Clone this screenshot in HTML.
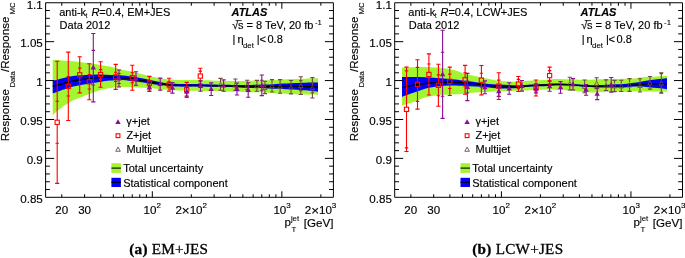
<!DOCTYPE html>
<html><head><meta charset="utf-8"><style>
html,body{margin:0;padding:0;background:#fff;width:685px;height:258px;overflow:hidden}
svg{display:block;will-change:transform}
.m{font-family:"Liberation Sans",sans-serif;font-size:11.0px;fill:#000;stroke:#000;stroke-width:0.15px}
.a{font-family:"Liberation Sans",sans-serif;font-size:11.6px;fill:#000;stroke:#000;stroke-width:0.15px}
.s{font-family:"Liberation Sans",sans-serif;font-size:7.8px;fill:#000;stroke:#000;stroke-width:0.1px}
.s2{font-family:"Liberation Sans",sans-serif;font-size:7.2px;fill:#000}
.c{font-family:"Liberation Serif",serif;font-size:15.2px;letter-spacing:0.25px;fill:#000;stroke:#000;stroke-width:0.3px}
</style></head><body>
<svg width="685" height="258" viewBox="0 0 685 258">
<rect width="685" height="258" fill="#fff"/>
<g transform="translate(0,0)"><path d="M52.7,60 C53.48,60.02 55.92,60.03 57.4,60.1 C58.88,60.17 60.17,60.3 61.6,60.4 C63.03,60.5 64.05,60.55 66,60.7 C67.95,60.85 70.8,61.03 73.3,61.3 C75.8,61.57 78.68,62 81,62.3 C83.32,62.6 84.1,62.67 87.2,63.1 C90.3,63.53 95.8,64.32 99.6,64.9 C103.4,65.48 106.6,65.85 110,66.6 C113.4,67.35 116.38,68.57 120,69.4 C123.62,70.23 127.8,70.75 131.7,71.6 C135.6,72.45 139.52,73.57 143.4,74.5 C147.28,75.43 151.12,76.42 155,77.2 C158.88,77.98 162.8,78.73 166.7,79.2 C170.6,79.67 173.52,79.87 178.4,80 C183.28,80.13 190.48,79.93 196,80 C201.52,80.07 206.33,80.23 211.5,80.4 C216.67,80.57 222.92,80.9 227,81 C231.08,81.1 231.92,81.05 236,81 C240.08,80.95 246.33,80.82 251.5,80.7 C256.67,80.58 262.92,80.42 267,80.3 C271.08,80.18 272.17,80.2 276,80 C279.83,79.8 285.33,79.32 290,79.1 C294.67,78.88 299.33,78.85 304,78.7 C308.67,78.55 315.67,78.28 318,78.2 L318,94.9 C315.67,94.83 308.67,94.65 304,94.5 C299.33,94.35 294.67,94.22 290,94 C285.33,93.78 279.83,93.42 276,93.2 C272.17,92.98 271.08,92.85 267,92.7 C262.92,92.55 256.67,92.47 251.5,92.3 C246.33,92.13 240.08,91.85 236,91.7 C231.92,91.55 231.08,91.5 227,91.4 C222.92,91.3 216.67,91.22 211.5,91.1 C206.33,90.98 201.52,90.82 196,90.7 C190.48,90.58 183.28,90.57 178.4,90.4 C173.52,90.23 170.6,90.03 166.7,89.7 C162.8,89.37 158.88,88.72 155,88.4 C151.12,88.08 147.28,88 143.4,87.8 C139.52,87.6 135.6,87.33 131.7,87.2 C127.8,87.07 123.62,86.87 120,87 C116.38,87.13 113.4,87.45 110,88 C106.6,88.55 103.4,89.18 99.6,90.3 C95.8,91.42 90.3,93.55 87.2,94.7 C84.1,95.85 83.32,96.28 81,97.2 C78.68,98.12 75.8,98.97 73.3,100.2 C70.8,101.43 67.95,103.35 66,104.6 C64.05,105.85 63.03,106.63 61.6,107.7 C60.17,108.77 58.88,109.73 57.4,111 C55.92,112.27 53.48,114.58 52.7,115.3 Z" fill="#a2f52f"/><path d="M52.7,80.6 C53.48,80.47 55.92,80.13 57.4,79.8 C58.88,79.47 60.17,78.98 61.6,78.6 C63.03,78.22 64.05,77.92 66,77.5 C67.95,77.08 70.8,76.47 73.3,76.1 C75.8,75.73 78.68,75.5 81,75.3 C83.32,75.1 84.1,75.05 87.2,74.9 C90.3,74.75 95.8,74.4 99.6,74.4 C103.4,74.4 106.6,74.75 110,74.9 C113.4,75.05 116.38,75.03 120,75.3 C123.62,75.57 127.8,75.97 131.7,76.5 C135.6,77.03 139.52,77.75 143.4,78.5 C147.28,79.25 151.12,80.2 155,81 C158.88,81.8 162.8,82.8 166.7,83.3 C170.6,83.8 173.52,83.87 178.4,84 C183.28,84.13 190.48,84.03 196,84.1 C201.52,84.17 206.33,84.28 211.5,84.4 C216.67,84.52 222.92,84.7 227,84.8 C231.08,84.9 231.92,84.98 236,85 C240.08,85.02 246.33,84.98 251.5,84.9 C256.67,84.82 262.92,84.65 267,84.5 C271.08,84.35 272.17,84.2 276,84 C279.83,83.8 285.33,83.5 290,83.3 C294.67,83.1 299.33,82.92 304,82.8 C308.67,82.68 315.67,82.63 318,82.6 L318,91.7 C315.67,91.47 308.67,90.7 304,90.3 C299.33,89.9 294.67,89.57 290,89.3 C285.33,89.03 279.83,88.85 276,88.7 C272.17,88.55 271.08,88.52 267,88.4 C262.92,88.28 256.67,88.17 251.5,88 C246.33,87.83 240.08,87.55 236,87.4 C231.92,87.25 231.08,87.2 227,87.1 C222.92,87 216.67,86.9 211.5,86.8 C206.33,86.7 201.52,86.53 196,86.5 C190.48,86.47 183.28,86.73 178.4,86.6 C173.52,86.47 170.6,86.03 166.7,85.7 C162.8,85.37 158.88,85.12 155,84.6 C151.12,84.08 147.28,83.22 143.4,82.6 C139.52,81.98 135.6,81.35 131.7,80.9 C127.8,80.45 123.62,79.95 120,79.9 C116.38,79.85 113.4,80.25 110,80.6 C106.6,80.95 103.4,81.43 99.6,82 C95.8,82.57 90.3,83.48 87.2,84 C84.1,84.52 83.32,84.67 81,85.1 C78.68,85.53 75.8,85.98 73.3,86.6 C70.8,87.22 67.95,88.2 66,88.8 C64.05,89.4 63.03,89.7 61.6,90.2 C60.17,90.7 58.88,91.27 57.4,91.8 C55.92,92.33 53.48,93.13 52.7,93.4 Z" fill="#0000ff"/><path d="M52.7,86.2 C53.48,86.03 55.92,85.55 57.4,85.2 C58.88,84.85 60.17,84.5 61.6,84.1 C63.03,83.7 64.05,83.33 66,82.8 C67.95,82.27 70.8,81.43 73.3,80.9 C75.8,80.37 78.68,79.95 81,79.6 C83.32,79.25 84.1,79.17 87.2,78.8 C90.3,78.43 95.8,77.67 99.6,77.4 C103.4,77.13 106.6,77.17 110,77.2 C113.4,77.23 116.38,77.32 120,77.6 C123.62,77.88 127.8,78.38 131.7,78.9 C135.6,79.42 139.52,80.02 143.4,80.7 C147.28,81.38 151.12,82.35 155,83 C158.88,83.65 162.8,84.2 166.7,84.6 C170.6,85 173.52,85.25 178.4,85.4 C183.28,85.55 190.48,85.45 196,85.5 C201.52,85.55 206.33,85.62 211.5,85.7 C216.67,85.78 222.92,85.9 227,86 C231.08,86.1 231.92,86.22 236,86.3 C240.08,86.38 246.33,86.43 251.5,86.5 C256.67,86.57 262.92,86.72 267,86.7 C271.08,86.68 272.17,86.5 276,86.4 C279.83,86.3 285.33,86.07 290,86.1 C294.67,86.13 299.33,86.45 304,86.6 C308.67,86.75 315.67,86.93 318,87" fill="none" stroke="#000" stroke-width="1.4"/><path d="M57.2,61.2 V120 M57.2,124.6 V183.4" stroke="#ff0000" stroke-width="1.1" fill="none"/><path d="M55.1,61.2 h4.2 M55.1,183.4 h4.2 M55.5,101.3 h3.4 M55.5,143.3 h3.4 " stroke="#ff0000" stroke-width="1.1" fill="none"/><rect x="55.1" y="120.2" width="4.2" height="4.2" fill="none" stroke="#ff0000" stroke-width="1.1"/><path d="M68.3,52.1 V84 M68.3,88.6 V120.5" stroke="#ff0000" stroke-width="1.1" fill="none"/><path d="M66.2,52.1 h4.2 M66.2,120.5 h4.2 M66.6,76.6 h3.4 M66.6,96 h3.4 " stroke="#ff0000" stroke-width="1.1" fill="none"/><rect x="66.2" y="84.2" width="4.2" height="4.2" fill="none" stroke="#ff0000" stroke-width="1.1"/><path d="M79.7,56.7 V72.5 M79.7,77.1 V92.9" stroke="#ff0000" stroke-width="1.1" fill="none"/><path d="M77.6,56.7 h4.2 M77.6,92.9 h4.2 M78,68.1 h3.4 M78,81.5 h3.4 " stroke="#ff0000" stroke-width="1.1" fill="none"/><rect x="77.6" y="72.7" width="4.2" height="4.2" fill="none" stroke="#ff0000" stroke-width="1.1"/><path d="M89.3,63.8 V79.5 M89.3,84.1 V99.8" stroke="#ff0000" stroke-width="1.1" fill="none"/><path d="M87.2,63.8 h4.2 M87.2,99.8 h4.2 M87.6,74.6 h3.4 M87.6,89 h3.4 " stroke="#ff0000" stroke-width="1.1" fill="none"/><rect x="87.2" y="79.7" width="4.2" height="4.2" fill="none" stroke="#ff0000" stroke-width="1.1"/><path d="M100.6,61.8 V72.2 M100.6,76.8 V87.2" stroke="#ff0000" stroke-width="1.1" fill="none"/><path d="M98.5,61.8 h4.2 M98.5,87.2 h4.2 M98.9,69.6 h3.4 M98.9,79.4 h3.4 " stroke="#ff0000" stroke-width="1.1" fill="none"/><rect x="98.5" y="72.4" width="4.2" height="4.2" fill="none" stroke="#ff0000" stroke-width="1.1"/><path d="M115.7,64.4 V74.6 M115.7,79.2 V89.4" stroke="#ff0000" stroke-width="1.1" fill="none"/><path d="M113.6,64.4 h4.2 M113.6,89.4 h4.2 M114,72.3 h3.4 M114,81.5 h3.4 " stroke="#ff0000" stroke-width="1.1" fill="none"/><rect x="113.6" y="74.8" width="4.2" height="4.2" fill="none" stroke="#ff0000" stroke-width="1.1"/><path d="M132.3,65.2 V75.4 M132.3,80 V90.2" stroke="#ff0000" stroke-width="1.1" fill="none"/><path d="M130.2,65.2 h4.2 M130.2,90.2 h4.2 M130.6,72.7 h3.4 M130.6,82.7 h3.4 " stroke="#ff0000" stroke-width="1.1" fill="none"/><rect x="130.2" y="75.6" width="4.2" height="4.2" fill="none" stroke="#ff0000" stroke-width="1.1"/><path d="M149.4,76.4 V80.9 M149.4,85.5 V90" stroke="#ff0000" stroke-width="1.1" fill="none"/><path d="M147.3,76.4 h4.2 M147.3,90 h4.2 M147.7,80.2 h3.4 M147.7,86.2 h3.4 " stroke="#ff0000" stroke-width="1.1" fill="none"/><rect x="147.3" y="81.1" width="4.2" height="4.2" fill="none" stroke="#ff0000" stroke-width="1.1"/><path d="M169.1,78.3 V82.4 M169.1,87 V91.1" stroke="#ff0000" stroke-width="1.1" fill="none"/><path d="M167,78.3 h4.2 M167,91.1 h4.2 M167.4,81.7 h3.4 M167.4,87.7 h3.4 " stroke="#ff0000" stroke-width="1.1" fill="none"/><rect x="167" y="82.6" width="4.2" height="4.2" fill="none" stroke="#ff0000" stroke-width="1.1"/><path d="M186.7,82.4 V87.6 M186.7,92.2 V97.4" stroke="#ff0000" stroke-width="1.1" fill="none"/><path d="M184.6,82.4 h4.2 M184.6,97.4 h4.2 M185,86.9 h3.4 M185,92.9 h3.4 " stroke="#ff0000" stroke-width="1.1" fill="none"/><rect x="184.6" y="87.8" width="4.2" height="4.2" fill="none" stroke="#ff0000" stroke-width="1.1"/><path d="M200.3,68.3 V73.8 M200.3,78.4 V83.9" stroke="#ff0000" stroke-width="1.1" fill="none"/><path d="M198.2,68.3 h4.2 M198.2,83.9 h4.2 M198.6,71.1 h3.4 M198.6,81.1 h3.4 " stroke="#ff0000" stroke-width="1.1" fill="none"/><rect x="198.2" y="74" width="4.2" height="4.2" fill="none" stroke="#ff0000" stroke-width="1.1"/><path d="M220.5,78.4 V81.9 M220.5,86.7 V90.2" stroke="#6e4c3e" stroke-width="1.1" fill="none"/><path d="M218.4,78.4 h4.2 M218.4,90.2 h4.2 " stroke="#6e4c3e" stroke-width="1.1" fill="none"/><path d="M220.5,82.3 L222.7,86.3 L218.3,86.3 Z" fill="none" stroke="#6e4c3e" stroke-width="0.85" stroke-linejoin="miter"/><path d="M235.4,79 V82.2 M235.4,87 V90.2" stroke="#6e4c3e" stroke-width="1.1" fill="none"/><path d="M233.3,79 h4.2 M233.3,90.2 h4.2 " stroke="#6e4c3e" stroke-width="1.1" fill="none"/><path d="M235.4,82.6 L237.6,86.6 L233.2,86.6 Z" fill="none" stroke="#6e4c3e" stroke-width="0.85" stroke-linejoin="miter"/><path d="M247.2,80.2 V82.6 M247.2,87.4 V89.8" stroke="#6e4c3e" stroke-width="1.1" fill="none"/><path d="M245.1,80.2 h4.2 M245.1,89.8 h4.2 " stroke="#6e4c3e" stroke-width="1.1" fill="none"/><path d="M247.2,83 L249.4,87 L245,87 Z" fill="none" stroke="#6e4c3e" stroke-width="0.85" stroke-linejoin="miter"/><path d="M256.9,80.4 V83.4 M256.9,88.2 V91.2" stroke="#6e4c3e" stroke-width="1.1" fill="none"/><path d="M254.8,80.4 h4.2 M254.8,91.2 h4.2 " stroke="#6e4c3e" stroke-width="1.1" fill="none"/><path d="M256.9,83.8 L259.1,87.8 L254.7,87.8 Z" fill="none" stroke="#6e4c3e" stroke-width="0.85" stroke-linejoin="miter"/><path d="M264.9,81.2 V85 M264.9,89.8 V93.6" stroke="#6e4c3e" stroke-width="1.1" fill="none"/><path d="M262.8,81.2 h4.2 M262.8,93.6 h4.2 " stroke="#6e4c3e" stroke-width="1.1" fill="none"/><path d="M264.9,85.4 L267.1,89.4 L262.7,89.4 Z" fill="none" stroke="#6e4c3e" stroke-width="0.85" stroke-linejoin="miter"/><path d="M272,79.6 V83.4 M272,88.2 V92" stroke="#6e4c3e" stroke-width="1.1" fill="none"/><path d="M269.9,79.6 h4.2 M269.9,92 h4.2 " stroke="#6e4c3e" stroke-width="1.1" fill="none"/><path d="M272,83.8 L274.2,87.8 L269.8,87.8 Z" fill="none" stroke="#6e4c3e" stroke-width="0.85" stroke-linejoin="miter"/><path d="M280.1,79.6 V84 M280.1,88.8 V93.2" stroke="#6e4c3e" stroke-width="1.1" fill="none"/><path d="M278,79.6 h4.2 M278,93.2 h4.2 " stroke="#6e4c3e" stroke-width="1.1" fill="none"/><path d="M280.1,84.4 L282.3,88.4 L277.9,88.4 Z" fill="none" stroke="#6e4c3e" stroke-width="0.85" stroke-linejoin="miter"/><path d="M291,80.5 V84.8 M291,89.6 V93.9" stroke="#6e4c3e" stroke-width="1.1" fill="none"/><path d="M288.9,80.5 h4.2 M288.9,93.9 h4.2 " stroke="#6e4c3e" stroke-width="1.1" fill="none"/><path d="M291,85.2 L293.2,89.2 L288.8,89.2 Z" fill="none" stroke="#6e4c3e" stroke-width="0.85" stroke-linejoin="miter"/><path d="M300.8,76.7 V83.2 M300.8,88 V94.5" stroke="#6e4c3e" stroke-width="1.1" fill="none"/><path d="M298.7,76.7 h4.2 M298.7,94.5 h4.2 M299.1,80.6 h3.4 M299.1,90.6 h3.4 " stroke="#6e4c3e" stroke-width="1.1" fill="none"/><path d="M300.8,83.6 L303,87.6 L298.6,87.6 Z" fill="none" stroke="#6e4c3e" stroke-width="0.85" stroke-linejoin="miter"/><path d="M312.4,77.6 V85.4 M312.4,90.2 V98" stroke="#6e4c3e" stroke-width="1.1" fill="none"/><path d="M310.3,77.6 h4.2 M310.3,98 h4.2 M310.7,82.8 h3.4 M310.7,92.8 h3.4 " stroke="#6e4c3e" stroke-width="1.1" fill="none"/><path d="M312.4,85.8 L314.6,89.8 L310.2,89.8 Z" fill="none" stroke="#6e4c3e" stroke-width="0.85" stroke-linejoin="miter"/><path d="M93.3,33.5 V101.9" stroke="#8c0c98" stroke-width="1.1" fill="none"/><path d="M91.2,33.5 h4.2 M91.2,101.9 h4.2 M91.6,50.4 h3.4 M91.6,85 h3.4 " stroke="#8c0c98" stroke-width="1.1" fill="none"/><path d="M93.3,64.82 L96,69.62 L90.6,69.62 Z" fill="#8c0c98"/><path d="M119,70 V87" stroke="#8c0c98" stroke-width="1.1" fill="none"/><path d="M116.9,70 h4.2 M116.9,87 h4.2 M117.3,73.5 h3.4 M117.3,83.5 h3.4 " stroke="#8c0c98" stroke-width="1.1" fill="none"/><path d="M119,75.62 L121.7,80.42 L116.3,80.42 Z" fill="#8c0c98"/><path d="M136,71.7 V85.3" stroke="#8c0c98" stroke-width="1.1" fill="none"/><path d="M133.9,71.7 h4.2 M133.9,85.3 h4.2 " stroke="#8c0c98" stroke-width="1.1" fill="none"/><path d="M136,75.62 L138.7,80.42 L133.3,80.42 Z" fill="#8c0c98"/><path d="M149.4,83.1 V91.5" stroke="#8c0c98" stroke-width="1.1" fill="none"/><path d="M147.3,83.1 h4.2 M147.3,91.5 h4.2 " stroke="#8c0c98" stroke-width="1.1" fill="none"/><path d="M149.4,84.42 L152.1,89.22 L146.7,89.22 Z" fill="#8c0c98"/><path d="M160.2,78.1 V90.1" stroke="#8c0c98" stroke-width="1.1" fill="none"/><path d="M158.1,78.1 h4.2 M158.1,90.1 h4.2 " stroke="#8c0c98" stroke-width="1.1" fill="none"/><path d="M160.2,81.22 L162.9,86.02 L157.5,86.02 Z" fill="#8c0c98"/><path d="M172.4,82.5 V93.1" stroke="#8c0c98" stroke-width="1.1" fill="none"/><path d="M170.3,82.5 h4.2 M170.3,93.1 h4.2 " stroke="#8c0c98" stroke-width="1.1" fill="none"/><path d="M172.4,84.92 L175.1,89.72 L169.7,89.72 Z" fill="#8c0c98"/><path d="M186.7,87.1 V96.1" stroke="#8c0c98" stroke-width="1.1" fill="none"/><path d="M184.6,87.1 h4.2 M184.6,96.1 h4.2 " stroke="#8c0c98" stroke-width="1.1" fill="none"/><path d="M186.7,88.72 L189.4,93.52 L184,93.52 Z" fill="#8c0c98"/><path d="M200.5,80.7 V91.3" stroke="#8c0c98" stroke-width="1.1" fill="none"/><path d="M198.4,80.7 h4.2 M198.4,91.3 h4.2 " stroke="#8c0c98" stroke-width="1.1" fill="none"/><path d="M200.5,83.12 L203.2,87.92 L197.8,87.92 Z" fill="#8c0c98"/><path d="M211.2,82.9 V95.5" stroke="#8c0c98" stroke-width="1.1" fill="none"/><path d="M209.1,82.9 h4.2 M209.1,95.5 h4.2 " stroke="#8c0c98" stroke-width="1.1" fill="none"/><path d="M211.2,86.32 L213.9,91.12 L208.5,91.12 Z" fill="#8c0c98"/><path d="M223.6,79.9 V91.3" stroke="#8c0c98" stroke-width="1.1" fill="none"/><path d="M221.5,79.9 h4.2 M221.5,91.3 h4.2 " stroke="#8c0c98" stroke-width="1.1" fill="none"/><path d="M223.6,82.72 L226.3,87.52 L220.9,87.52 Z" fill="#8c0c98"/><path d="M237,83 V95" stroke="#8c0c98" stroke-width="1.1" fill="none"/><path d="M234.9,83 h4.2 M234.9,95 h4.2 " stroke="#8c0c98" stroke-width="1.1" fill="none"/><path d="M237,86.12 L239.7,90.92 L234.3,90.92 Z" fill="#8c0c98"/><path d="M248.2,82.8 V97.2" stroke="#8c0c98" stroke-width="1.1" fill="none"/><path d="M246.1,82.8 h4.2 M246.1,97.2 h4.2 " stroke="#8c0c98" stroke-width="1.1" fill="none"/><path d="M248.2,87.12 L250.9,91.92 L245.5,91.92 Z" fill="#8c0c98"/><path d="M261.8,75 V95.6" stroke="#8c0c98" stroke-width="1.1" fill="none"/><path d="M259.7,75 h4.2 M259.7,95.6 h4.2 M260.1,80.3 h3.4 M260.1,90.3 h3.4 " stroke="#8c0c98" stroke-width="1.1" fill="none"/><path d="M261.8,82.42 L264.5,87.22 L259.1,87.22 Z" fill="#8c0c98"/><path d="M45.6,2.75 H333.4 V197.3 H45.6 Z M45.6,189.52 h4.3 M333.4,189.52 h-4.3 M45.6,181.74 h4.3 M333.4,181.74 h-4.3 M45.6,173.95 h4.3 M333.4,173.95 h-4.3 M45.6,166.17 h4.3 M333.4,166.17 h-4.3 M45.6,158.39 h8.5 M333.4,158.39 h-8.5 M45.6,150.61 h4.3 M333.4,150.61 h-4.3 M45.6,142.83 h4.3 M333.4,142.83 h-4.3 M45.6,135.04 h4.3 M333.4,135.04 h-4.3 M45.6,127.26 h4.3 M333.4,127.26 h-4.3 M45.6,119.48 h8.5 M333.4,119.48 h-8.5 M45.6,111.7 h4.3 M333.4,111.7 h-4.3 M45.6,103.92 h4.3 M333.4,103.92 h-4.3 M45.6,96.13 h4.3 M333.4,96.13 h-4.3 M45.6,88.35 h4.3 M333.4,88.35 h-4.3 M45.6,80.57 h8.5 M333.4,80.57 h-8.5 M45.6,72.79 h4.3 M333.4,72.79 h-4.3 M45.6,65.01 h4.3 M333.4,65.01 h-4.3 M45.6,57.22 h4.3 M333.4,57.22 h-4.3 M45.6,49.44 h4.3 M333.4,49.44 h-4.3 M45.6,41.66 h8.5 M333.4,41.66 h-8.5 M45.6,33.88 h4.3 M333.4,33.88 h-4.3 M45.6,26.1 h4.3 M333.4,26.1 h-4.3 M45.6,18.31 h4.3 M333.4,18.31 h-4.3 M45.6,10.53 h4.3 M333.4,10.53 h-4.3 M61.78,197.3 v-3 M61.78,2.75 v3 M84.59,197.3 v-3 M84.59,2.75 v3 M100.78,197.3 v-3 M100.78,2.75 v3 M113.33,197.3 v-3 M113.33,2.75 v3 M123.59,197.3 v-3 M123.59,2.75 v3 M132.26,197.3 v-3 M132.26,2.75 v3 M139.77,197.3 v-3 M139.77,2.75 v3 M146.4,197.3 v-3 M146.4,2.75 v3 M152.32,197.3 v-6 M152.32,2.75 v6 M191.32,197.3 v-3 M191.32,2.75 v3 M214.12,197.3 v-3 M214.12,2.75 v3 M230.31,197.3 v-3 M230.31,2.75 v3 M242.86,197.3 v-3 M242.86,2.75 v3 M253.12,197.3 v-3 M253.12,2.75 v3 M261.79,197.3 v-3 M261.79,2.75 v3 M269.3,197.3 v-3 M269.3,2.75 v3 M275.93,197.3 v-3 M275.93,2.75 v3 M281.85,197.3 v-6 M281.85,2.75 v6 M320.85,197.3 v-3 M320.85,2.75 v3" stroke="#000" stroke-width="1.0" fill="none"/></g>
<g transform="translate(349.1,0)"><path d="M52.9,67.6 C54.8,67.53 60.47,67.32 64.3,67.2 C68.13,67.08 72.02,66.83 75.9,66.9 C79.78,66.97 83.15,67.17 87.6,67.6 C92.05,68.03 98.15,68.57 102.6,69.5 C107.05,70.43 110.42,72.1 114.3,73.2 C118.18,74.3 122.02,75.23 125.9,76.1 C129.78,76.97 133.7,77.62 137.6,78.4 C141.5,79.18 145.42,80.27 149.3,80.8 C153.18,81.33 157.3,81.45 160.9,81.6 C164.5,81.75 167.32,81.87 170.9,81.7 C174.48,81.53 177.9,80.92 182.4,80.6 C186.9,80.28 193.82,80.07 197.9,79.8 C201.98,79.53 202.82,79.07 206.9,79 C210.98,78.93 217.23,79.27 222.4,79.4 C227.57,79.53 233.82,79.8 237.9,79.8 C241.98,79.8 242.82,79.53 246.9,79.4 C250.98,79.27 257.23,79.12 262.4,79 C267.57,78.88 273.82,78.83 277.9,78.7 C281.98,78.57 283.73,78.47 286.9,78.2 C290.07,77.93 292.9,77.43 296.9,77.1 C300.9,76.77 307.4,76.4 310.9,76.2 C314.4,76 316.73,75.95 317.9,75.9 L317.9,91.5 C316.73,91.5 314.4,91.5 310.9,91.5 C307.4,91.5 300.9,91.53 296.9,91.5 C292.9,91.47 290.07,91.25 286.9,91.3 C283.73,91.35 281.98,91.72 277.9,91.8 C273.82,91.88 267.57,91.7 262.4,91.8 C257.23,91.9 250.98,92.33 246.9,92.4 C242.82,92.47 241.98,92.48 237.9,92.2 C233.82,91.92 227.57,91.1 222.4,90.7 C217.23,90.3 210.98,90 206.9,89.8 C202.82,89.6 201.98,89.48 197.9,89.5 C193.82,89.52 186.9,89.7 182.4,89.9 C177.9,90.1 174.48,90.53 170.9,90.7 C167.32,90.87 164.5,90.8 160.9,90.9 C157.3,91 153.18,91.12 149.3,91.3 C145.42,91.48 141.5,91.78 137.6,92 C133.7,92.22 129.78,92.32 125.9,92.6 C122.02,92.88 118.18,93.38 114.3,93.7 C110.42,94.02 107.05,94.22 102.6,94.5 C98.15,94.78 92.05,94.92 87.6,95.4 C83.15,95.88 79.78,96.28 75.9,97.4 C72.02,98.52 68.13,100.73 64.3,102.1 C60.47,103.47 54.8,105.02 52.9,105.6 Z" fill="#a2f52f"/><path d="M52.9,77.1 C54.8,77.1 60.47,77.07 64.3,77.1 C68.13,77.13 72.02,77.15 75.9,77.3 C79.78,77.45 83.15,77.68 87.6,78 C92.05,78.32 98.15,78.8 102.6,79.2 C107.05,79.6 110.42,79.95 114.3,80.4 C118.18,80.85 122.02,81.35 125.9,81.9 C129.78,82.45 133.7,83.25 137.6,83.7 C141.5,84.15 145.42,84.37 149.3,84.6 C153.18,84.83 157.3,84.93 160.9,85.1 C164.5,85.27 167.32,85.68 170.9,85.6 C174.48,85.52 177.9,84.88 182.4,84.6 C186.9,84.32 193.82,84.07 197.9,83.9 C201.98,83.73 202.82,83.58 206.9,83.6 C210.98,83.62 217.23,83.77 222.4,84 C227.57,84.23 233.82,84.8 237.9,85 C241.98,85.2 242.82,85.28 246.9,85.2 C250.98,85.12 257.23,84.75 262.4,84.5 C267.57,84.25 273.82,84.02 277.9,83.7 C281.98,83.38 283.73,83.08 286.9,82.6 C290.07,82.12 292.9,81.4 296.9,80.8 C300.9,80.2 307.4,79.42 310.9,79 C314.4,78.58 316.73,78.42 317.9,78.3 L317.9,89.2 C316.73,89.05 314.4,88.68 310.9,88.3 C307.4,87.92 300.9,87.18 296.9,86.9 C292.9,86.62 290.07,86.55 286.9,86.6 C283.73,86.65 281.98,87.03 277.9,87.2 C273.82,87.37 267.57,87.57 262.4,87.6 C257.23,87.63 250.98,87.5 246.9,87.4 C242.82,87.3 241.98,87.27 237.9,87 C233.82,86.73 227.57,86.08 222.4,85.8 C217.23,85.52 210.98,85.28 206.9,85.3 C202.82,85.32 201.98,85.68 197.9,85.9 C193.82,86.12 186.9,86.28 182.4,86.6 C177.9,86.92 174.48,87.5 170.9,87.8 C167.32,88.1 164.5,88.3 160.9,88.4 C157.3,88.5 153.18,88.6 149.3,88.4 C145.42,88.2 141.5,87.5 137.6,87.2 C133.7,86.9 129.78,86.83 125.9,86.6 C122.02,86.37 118.18,86 114.3,85.8 C110.42,85.6 107.05,85.3 102.6,85.4 C98.15,85.5 92.05,85.85 87.6,86.4 C83.15,86.95 79.78,87.63 75.9,88.7 C72.02,89.77 68.13,91.43 64.3,92.8 C60.47,94.17 54.8,96.22 52.9,96.9 Z" fill="#0000ff"/><path d="M52.9,87.6 C54.8,87.2 60.47,85.88 64.3,85.2 C68.13,84.52 72.02,83.93 75.9,83.5 C79.78,83.07 83.15,82.8 87.6,82.6 C92.05,82.4 98.15,82.28 102.6,82.3 C107.05,82.32 110.42,82.47 114.3,82.7 C118.18,82.93 122.02,83.25 125.9,83.7 C129.78,84.15 133.7,84.92 137.6,85.4 C141.5,85.88 145.42,86.35 149.3,86.6 C153.18,86.85 157.3,86.88 160.9,86.9 C164.5,86.92 167.32,86.92 170.9,86.7 C174.48,86.48 177.9,85.9 182.4,85.6 C186.9,85.3 193.82,85.08 197.9,84.9 C201.98,84.72 202.82,84.5 206.9,84.5 C210.98,84.5 217.23,84.65 222.4,84.9 C227.57,85.15 233.82,85.75 237.9,86 C241.98,86.25 242.82,86.4 246.9,86.4 C250.98,86.4 257.23,86.13 262.4,86 C267.57,85.87 273.82,85.77 277.9,85.6 C281.98,85.43 283.73,85.25 286.9,85 C290.07,84.75 292.9,84.28 296.9,84.1 C300.9,83.92 307.4,83.93 310.9,83.9 C314.4,83.87 316.73,83.9 317.9,83.9" fill="none" stroke="#000" stroke-width="1.4"/><path d="M57.4,67.15 V107.05 M57.4,111.65 V151.55" stroke="#ff0000" stroke-width="1.1" fill="none"/><path d="M55.3,67.15 h4.2 M55.3,151.55 h4.2 M55.7,70.85 h3.4 M55.7,147.85 h3.4 " stroke="#ff0000" stroke-width="1.1" fill="none"/><rect x="55.3" y="107.25" width="4.2" height="4.2" fill="none" stroke="#ff0000" stroke-width="1.1"/><path d="M68.4,59.7 V82.1 M68.4,86.7 V109.1" stroke="#ff0000" stroke-width="1.1" fill="none"/><path d="M66.3,59.7 h4.2 M66.3,109.1 h4.2 M66.7,67.4 h3.4 M66.7,101.4 h3.4 " stroke="#ff0000" stroke-width="1.1" fill="none"/><rect x="66.3" y="82.3" width="4.2" height="4.2" fill="none" stroke="#ff0000" stroke-width="1.1"/><path d="M79.8,53.85 V72.15 M79.8,76.75 V95.05" stroke="#ff0000" stroke-width="1.1" fill="none"/><path d="M77.7,53.85 h4.2 M77.7,95.05 h4.2 M78.1,63.95 h3.4 M78.1,84.95 h3.4 " stroke="#ff0000" stroke-width="1.1" fill="none"/><rect x="77.7" y="72.35" width="4.2" height="4.2" fill="none" stroke="#ff0000" stroke-width="1.1"/><path d="M89.3,64.3 V83 M89.3,87.6 V106.3" stroke="#ff0000" stroke-width="1.1" fill="none"/><path d="M87.2,64.3 h4.2 M87.2,106.3 h4.2 M87.6,74.9 h3.4 M87.6,95.7 h3.4 " stroke="#ff0000" stroke-width="1.1" fill="none"/><rect x="87.2" y="83.2" width="4.2" height="4.2" fill="none" stroke="#ff0000" stroke-width="1.1"/><path d="M100.7,67.1 V79 M100.7,83.6 V95.5" stroke="#ff0000" stroke-width="1.1" fill="none"/><path d="M98.6,67.1 h4.2 M98.6,95.5 h4.2 M99,74.1 h3.4 M99,88.5 h3.4 " stroke="#ff0000" stroke-width="1.1" fill="none"/><rect x="98.6" y="79.2" width="4.2" height="4.2" fill="none" stroke="#ff0000" stroke-width="1.1"/><path d="M116,65.4 V77.5 M116,82.1 V94.2" stroke="#ff0000" stroke-width="1.1" fill="none"/><path d="M113.9,65.4 h4.2 M113.9,94.2 h4.2 M114.3,72.8 h3.4 M114.3,86.8 h3.4 " stroke="#ff0000" stroke-width="1.1" fill="none"/><rect x="113.9" y="77.7" width="4.2" height="4.2" fill="none" stroke="#ff0000" stroke-width="1.1"/><path d="M132.3,65.5 V77.9 M132.3,82.5 V94.9" stroke="#ff0000" stroke-width="1.1" fill="none"/><path d="M130.2,65.5 h4.2 M130.2,94.9 h4.2 M130.6,73.2 h3.4 M130.6,87.2 h3.4 " stroke="#ff0000" stroke-width="1.1" fill="none"/><rect x="130.2" y="78.1" width="4.2" height="4.2" fill="none" stroke="#ff0000" stroke-width="1.1"/><path d="M149.7,72.7 V83.8 M149.7,88.4 V99.5" stroke="#ff0000" stroke-width="1.1" fill="none"/><path d="M147.6,72.7 h4.2 M147.6,99.5 h4.2 M148,80.1 h3.4 M148,92.1 h3.4 " stroke="#ff0000" stroke-width="1.1" fill="none"/><rect x="147.6" y="84" width="4.2" height="4.2" fill="none" stroke="#ff0000" stroke-width="1.1"/><path d="M169.3,76.5 V81.7 M169.3,86.3 V91.5" stroke="#ff0000" stroke-width="1.1" fill="none"/><path d="M167.2,76.5 h4.2 M167.2,91.5 h4.2 M167.6,79.4 h3.4 M167.6,88.6 h3.4 " stroke="#ff0000" stroke-width="1.1" fill="none"/><rect x="167.2" y="81.9" width="4.2" height="4.2" fill="none" stroke="#ff0000" stroke-width="1.1"/><path d="M186.9,80 V85.7 M186.9,90.3 V96" stroke="#ff0000" stroke-width="1.1" fill="none"/><path d="M184.8,80 h4.2 M184.8,96 h4.2 M185.2,85 h3.4 M185.2,91 h3.4 " stroke="#ff0000" stroke-width="1.1" fill="none"/><rect x="184.8" y="85.9" width="4.2" height="4.2" fill="none" stroke="#ff0000" stroke-width="1.1"/><path d="M200.5,67.1 V73.3 M200.5,77.9 V84.1" stroke="#ff0000" stroke-width="1.1" fill="none"/><path d="M198.4,67.1 h4.2 M198.4,84.1 h4.2 M198.8,70.6 h3.4 M198.8,80.6 h3.4 " stroke="#ff0000" stroke-width="1.1" fill="none"/><rect x="198.4" y="73.5" width="4.2" height="4.2" fill="none" stroke="#ff0000" stroke-width="1.1"/><path d="M220.7,77.2 V81.2 M220.7,86 V90" stroke="#6e4c3e" stroke-width="1.1" fill="none"/><path d="M218.6,77.2 h4.2 M218.6,90 h4.2 " stroke="#6e4c3e" stroke-width="1.1" fill="none"/><path d="M220.7,81.6 L222.9,85.6 L218.5,85.6 Z" fill="none" stroke="#6e4c3e" stroke-width="0.85" stroke-linejoin="miter"/><path d="M235.5,80 V84 M235.5,88.8 V92.8" stroke="#6e4c3e" stroke-width="1.1" fill="none"/><path d="M233.4,80 h4.2 M233.4,92.8 h4.2 " stroke="#6e4c3e" stroke-width="1.1" fill="none"/><path d="M235.5,84.4 L237.7,88.4 L233.3,88.4 Z" fill="none" stroke="#6e4c3e" stroke-width="0.85" stroke-linejoin="miter"/><path d="M247.5,77.8 V80.8 M247.5,85.6 V88.6" stroke="#6e4c3e" stroke-width="1.1" fill="none"/><path d="M245.4,77.8 h4.2 M245.4,88.6 h4.2 " stroke="#6e4c3e" stroke-width="1.1" fill="none"/><path d="M247.5,81.2 L249.7,85.2 L245.3,85.2 Z" fill="none" stroke="#6e4c3e" stroke-width="0.85" stroke-linejoin="miter"/><path d="M256.9,79.9 V82.8 M256.9,87.6 V90.5" stroke="#6e4c3e" stroke-width="1.1" fill="none"/><path d="M254.8,79.9 h4.2 M254.8,90.5 h4.2 " stroke="#6e4c3e" stroke-width="1.1" fill="none"/><path d="M256.9,83.2 L259.1,87.2 L254.7,87.2 Z" fill="none" stroke="#6e4c3e" stroke-width="0.85" stroke-linejoin="miter"/><path d="M265.4,80.4 V83.6 M265.4,88.4 V91.6" stroke="#6e4c3e" stroke-width="1.1" fill="none"/><path d="M263.3,80.4 h4.2 M263.3,91.6 h4.2 " stroke="#6e4c3e" stroke-width="1.1" fill="none"/><path d="M265.4,84 L267.6,88 L263.2,88 Z" fill="none" stroke="#6e4c3e" stroke-width="0.85" stroke-linejoin="miter"/><path d="M272.2,80.3 V83.5 M272.2,88.3 V91.5" stroke="#6e4c3e" stroke-width="1.1" fill="none"/><path d="M270.1,80.3 h4.2 M270.1,91.5 h4.2 " stroke="#6e4c3e" stroke-width="1.1" fill="none"/><path d="M272.2,83.9 L274.4,87.9 L270,87.9 Z" fill="none" stroke="#6e4c3e" stroke-width="0.85" stroke-linejoin="miter"/><path d="M280.4,78.6 V82.6 M280.4,87.4 V91.4" stroke="#6e4c3e" stroke-width="1.1" fill="none"/><path d="M278.3,78.6 h4.2 M278.3,91.4 h4.2 " stroke="#6e4c3e" stroke-width="1.1" fill="none"/><path d="M280.4,83 L282.6,87 L278.2,87 Z" fill="none" stroke="#6e4c3e" stroke-width="0.85" stroke-linejoin="miter"/><path d="M290.9,78.8 V83 M290.9,87.8 V92" stroke="#6e4c3e" stroke-width="1.1" fill="none"/><path d="M288.8,78.8 h4.2 M288.8,92 h4.2 " stroke="#6e4c3e" stroke-width="1.1" fill="none"/><path d="M290.9,83.4 L293.1,87.4 L288.7,87.4 Z" fill="none" stroke="#6e4c3e" stroke-width="0.85" stroke-linejoin="miter"/><path d="M300.9,76.5 V80.4 M300.9,85.2 V89.1" stroke="#6e4c3e" stroke-width="1.1" fill="none"/><path d="M298.8,76.5 h4.2 M298.8,89.1 h4.2 " stroke="#6e4c3e" stroke-width="1.1" fill="none"/><path d="M300.9,80.8 L303.1,84.8 L298.7,84.8 Z" fill="none" stroke="#6e4c3e" stroke-width="0.85" stroke-linejoin="miter"/><path d="M312.2,72.7 V80.6 M312.2,85.4 V93.3" stroke="#6e4c3e" stroke-width="1.1" fill="none"/><path d="M310.1,72.7 h4.2 M310.1,93.3 h4.2 M310.5,73.8 h3.4 M310.5,92.2 h3.4 " stroke="#6e4c3e" stroke-width="1.1" fill="none"/><path d="M312.2,81 L314.4,85 L310,85 Z" fill="none" stroke="#6e4c3e" stroke-width="0.85" stroke-linejoin="miter"/><path d="M93.5,30.2 V118.4" stroke="#8c0c98" stroke-width="1.1" fill="none"/><path d="M91.4,30.2 h4.2 M91.4,118.4 h4.2 M91.8,52.3 h3.4 M91.8,96.3 h3.4 " stroke="#8c0c98" stroke-width="1.1" fill="none"/><path d="M93.5,71.42 L96.2,76.22 L90.8,76.22 Z" fill="#8c0c98"/><path d="M118.3,73.4 V100.6" stroke="#8c0c98" stroke-width="1.1" fill="none"/><path d="M116.2,73.4 h4.2 M116.2,100.6 h4.2 M116.6,81 h3.4 M116.6,93 h3.4 " stroke="#8c0c98" stroke-width="1.1" fill="none"/><path d="M118.3,84.12 L121,88.92 L115.6,88.92 Z" fill="#8c0c98"/><path d="M135.8,80.9 V93.7" stroke="#8c0c98" stroke-width="1.1" fill="none"/><path d="M133.7,80.9 h4.2 M133.7,93.7 h4.2 " stroke="#8c0c98" stroke-width="1.1" fill="none"/><path d="M135.8,84.42 L138.5,89.22 L133.1,89.22 Z" fill="#8c0c98"/><path d="M149.7,86.4 V96.4" stroke="#8c0c98" stroke-width="1.1" fill="none"/><path d="M147.6,86.4 h4.2 M147.6,96.4 h4.2 " stroke="#8c0c98" stroke-width="1.1" fill="none"/><path d="M149.7,88.52 L152.4,93.32 L147,93.32 Z" fill="#8c0c98"/><path d="M160.1,82.8 V94.2" stroke="#8c0c98" stroke-width="1.1" fill="none"/><path d="M158,82.8 h4.2 M158,94.2 h4.2 " stroke="#8c0c98" stroke-width="1.1" fill="none"/><path d="M160.1,85.62 L162.8,90.42 L157.4,90.42 Z" fill="#8c0c98"/><path d="M172.8,80.5 V91.1" stroke="#8c0c98" stroke-width="1.1" fill="none"/><path d="M170.7,80.5 h4.2 M170.7,91.1 h4.2 " stroke="#8c0c98" stroke-width="1.1" fill="none"/><path d="M172.8,82.92 L175.5,87.72 L170.1,87.72 Z" fill="#8c0c98"/><path d="M186.9,83.9 V92.9" stroke="#8c0c98" stroke-width="1.1" fill="none"/><path d="M184.8,83.9 h4.2 M184.8,92.9 h4.2 " stroke="#8c0c98" stroke-width="1.1" fill="none"/><path d="M186.9,85.52 L189.6,90.32 L184.2,90.32 Z" fill="#8c0c98"/><path d="M200.5,81.3 V91.3" stroke="#8c0c98" stroke-width="1.1" fill="none"/><path d="M198.4,81.3 h4.2 M198.4,91.3 h4.2 " stroke="#8c0c98" stroke-width="1.1" fill="none"/><path d="M200.5,83.42 L203.2,88.22 L197.8,88.22 Z" fill="#8c0c98"/><path d="M211.4,81.6 V93.2" stroke="#8c0c98" stroke-width="1.1" fill="none"/><path d="M209.3,81.6 h4.2 M209.3,93.2 h4.2 " stroke="#8c0c98" stroke-width="1.1" fill="none"/><path d="M211.4,84.52 L214.1,89.32 L208.7,89.32 Z" fill="#8c0c98"/><path d="M223.9,78.6 V90" stroke="#8c0c98" stroke-width="1.1" fill="none"/><path d="M221.8,78.6 h4.2 M221.8,90 h4.2 " stroke="#8c0c98" stroke-width="1.1" fill="none"/><path d="M223.9,81.42 L226.6,86.22 L221.2,86.22 Z" fill="#8c0c98"/><path d="M237,84.5 V95.3" stroke="#8c0c98" stroke-width="1.1" fill="none"/><path d="M234.9,84.5 h4.2 M234.9,95.3 h4.2 " stroke="#8c0c98" stroke-width="1.1" fill="none"/><path d="M237,87.02 L239.7,91.82 L234.3,91.82 Z" fill="#8c0c98"/><path d="M248.1,88 V99.6" stroke="#8c0c98" stroke-width="1.1" fill="none"/><path d="M246,88 h4.2 M246,99.6 h4.2 " stroke="#8c0c98" stroke-width="1.1" fill="none"/><path d="M248.1,90.92 L250.8,95.72 L245.4,95.72 Z" fill="#8c0c98"/><path d="M262.1,77.5 V92.1" stroke="#8c0c98" stroke-width="1.1" fill="none"/><path d="M260,77.5 h4.2 M260,92.1 h4.2 " stroke="#8c0c98" stroke-width="1.1" fill="none"/><path d="M262.1,81.92 L264.8,86.72 L259.4,86.72 Z" fill="#8c0c98"/><path d="M45.6,2.75 H333.4 V197.3 H45.6 Z M45.6,189.52 h4.3 M333.4,189.52 h-4.3 M45.6,181.74 h4.3 M333.4,181.74 h-4.3 M45.6,173.95 h4.3 M333.4,173.95 h-4.3 M45.6,166.17 h4.3 M333.4,166.17 h-4.3 M45.6,158.39 h8.5 M333.4,158.39 h-8.5 M45.6,150.61 h4.3 M333.4,150.61 h-4.3 M45.6,142.83 h4.3 M333.4,142.83 h-4.3 M45.6,135.04 h4.3 M333.4,135.04 h-4.3 M45.6,127.26 h4.3 M333.4,127.26 h-4.3 M45.6,119.48 h8.5 M333.4,119.48 h-8.5 M45.6,111.7 h4.3 M333.4,111.7 h-4.3 M45.6,103.92 h4.3 M333.4,103.92 h-4.3 M45.6,96.13 h4.3 M333.4,96.13 h-4.3 M45.6,88.35 h4.3 M333.4,88.35 h-4.3 M45.6,80.57 h8.5 M333.4,80.57 h-8.5 M45.6,72.79 h4.3 M333.4,72.79 h-4.3 M45.6,65.01 h4.3 M333.4,65.01 h-4.3 M45.6,57.22 h4.3 M333.4,57.22 h-4.3 M45.6,49.44 h4.3 M333.4,49.44 h-4.3 M45.6,41.66 h8.5 M333.4,41.66 h-8.5 M45.6,33.88 h4.3 M333.4,33.88 h-4.3 M45.6,26.1 h4.3 M333.4,26.1 h-4.3 M45.6,18.31 h4.3 M333.4,18.31 h-4.3 M45.6,10.53 h4.3 M333.4,10.53 h-4.3 M61.78,197.3 v-3 M61.78,2.75 v3 M84.59,197.3 v-3 M84.59,2.75 v3 M100.78,197.3 v-3 M100.78,2.75 v3 M113.33,197.3 v-3 M113.33,2.75 v3 M123.59,197.3 v-3 M123.59,2.75 v3 M132.26,197.3 v-3 M132.26,2.75 v3 M139.77,197.3 v-3 M139.77,2.75 v3 M146.4,197.3 v-3 M146.4,2.75 v3 M152.32,197.3 v-6 M152.32,2.75 v6 M191.32,197.3 v-3 M191.32,2.75 v3 M214.12,197.3 v-3 M214.12,2.75 v3 M230.31,197.3 v-3 M230.31,2.75 v3 M242.86,197.3 v-3 M242.86,2.75 v3 M253.12,197.3 v-3 M253.12,2.75 v3 M261.79,197.3 v-3 M261.79,2.75 v3 M269.3,197.3 v-3 M269.3,2.75 v3 M275.93,197.3 v-3 M275.93,2.75 v3 M281.85,197.3 v-6 M281.85,2.75 v6 M320.85,197.3 v-3 M320.85,2.75 v3" stroke="#000" stroke-width="1.0" fill="none"/></g>
<g transform="translate(0,0)"><text x="42.8" y="8.7" text-anchor="end" class="a">1.1</text><text x="42.8" y="46.6" text-anchor="end" class="a">1.05</text><text x="42.8" y="86.4" text-anchor="end" class="a">1</text><text x="42.8" y="124.6" text-anchor="end" class="a">0.95</text><text x="42.8" y="163.6" text-anchor="end" class="a">0.9</text><text x="42.8" y="202.6" text-anchor="end" class="a">0.85</text><text x="61.7" y="214" text-anchor="middle" class="a">20</text><text x="84.6" y="214" text-anchor="middle" class="a">30</text><text x="152.2" y="214" text-anchor="middle" class="a">10<tspan dy="-6.0" font-size="8">2</tspan></text><text x="191.2" y="214" text-anchor="middle" class="a">2<tspan font-size="13.4" dy="0.6">×</tspan><tspan dy="-0.6">10</tspan><tspan dy="-6.0" font-size="8">2</tspan></text><text x="282.1" y="214" text-anchor="middle" class="a">10<tspan dy="-6.0" font-size="8">3</tspan></text><text x="320.5" y="214" text-anchor="middle" class="a">2<tspan font-size="13.4" dy="0.6">×</tspan><tspan dy="-0.6">10</tspan><tspan dy="-6.0" font-size="8">3</tspan></text><text x="284.4" y="226.3" class="a">p</text><text x="290.9" y="221.0" class="s">jet</text><text x="291.4" y="232.3" class="s">T</text><text x="333.4" y="226.5" text-anchor="end" class="a">[GeV]</text><g transform="rotate(-90)"><text x="-141.3" y="8.9" class="a">Response</text><text x="-87.6" y="14.6" class="s">Data</text><text x="-72.0" y="8.9" class="a">/Response</text><text x="-14.4" y="14.6" class="s">MC</text></g><text x="59.2" y="15.8" class="m">anti-k</text><text x="85.6" y="18.4" class="s2">t</text><text x="91.4" y="15.8" class="m"><tspan font-style="italic">R</tspan>=0.4, EM+JES</text><text x="59.6" y="28.6" class="m">Data 2012</text><text x="231.5" y="15.6" class="m" font-size="11.7" font-weight="bold" font-style="italic">ATLAS</text><text x="232.2" y="29.4" class="m">√<tspan dx="-0.3">s</tspan> = 8 TeV, 20 fb</text><path d="M235.6,20.6 h6.2" stroke="#000" stroke-width="0.8"/><text x="315.0" y="24.6" class="s">-1</text><text x="232.6" y="42.7" class="m">|</text><text x="237.4" y="42.7" class="m">η</text><text x="243.0" y="47.8" class="s">det</text><text x="256.8" y="42.7" class="m">|</text><text x="259.4" y="42.7" class="m">&lt;</text><text x="267.5" y="42.7" class="m">0.8</text><path d="M118,119.32 L120.7,124.12 L115.3,124.12 Z" fill="#8c0c98"/><text x="126.3" y="125.0" class="m">γ+jet</text><rect x="116.1" y="133.8" width="3.8" height="3.8" fill="none" stroke="#ff0000" stroke-width="1.1"/><text x="126.4" y="139.2" class="m">Z+jet</text><path d="M118,147.08 L120.3,151.28 L115.7,151.28 Z" fill="none" stroke="#6e4c3e" stroke-width="0.9" stroke-linejoin="miter"/><text x="126.4" y="153.2" class="m">Multijet</text><rect x="111.4" y="163.2" width="9.5" height="9.7" fill="#a2f52f"/><path d="M111.4,168.1 h9.5" stroke="#000" stroke-width="1.1"/><text x="123.2" y="172.0" class="m">Total uncertainty</text><rect x="111.4" y="177.8" width="9.5" height="9.2" fill="#0000ff"/><path d="M111.4,182.3 h9.5" stroke="#000" stroke-width="1.1"/><text x="123.2" y="186.5" class="m">Statistical component</text></g>
<g transform="translate(349.1,0)"><text x="42.8" y="8.7" text-anchor="end" class="a">1.1</text><text x="42.8" y="46.6" text-anchor="end" class="a">1.05</text><text x="42.8" y="86.4" text-anchor="end" class="a">1</text><text x="42.8" y="124.6" text-anchor="end" class="a">0.95</text><text x="42.8" y="163.6" text-anchor="end" class="a">0.9</text><text x="42.8" y="202.6" text-anchor="end" class="a">0.85</text><text x="61.7" y="214" text-anchor="middle" class="a">20</text><text x="84.6" y="214" text-anchor="middle" class="a">30</text><text x="152.2" y="214" text-anchor="middle" class="a">10<tspan dy="-6.0" font-size="8">2</tspan></text><text x="191.2" y="214" text-anchor="middle" class="a">2<tspan font-size="13.4" dy="0.6">×</tspan><tspan dy="-0.6">10</tspan><tspan dy="-6.0" font-size="8">2</tspan></text><text x="282.1" y="214" text-anchor="middle" class="a">10<tspan dy="-6.0" font-size="8">3</tspan></text><text x="320.5" y="214" text-anchor="middle" class="a">2<tspan font-size="13.4" dy="0.6">×</tspan><tspan dy="-0.6">10</tspan><tspan dy="-6.0" font-size="8">3</tspan></text><text x="284.4" y="226.3" class="a">p</text><text x="290.9" y="221.0" class="s">jet</text><text x="291.4" y="232.3" class="s">T</text><text x="333.4" y="226.5" text-anchor="end" class="a">[GeV]</text><g transform="rotate(-90)"><text x="-141.3" y="8.9" class="a">Response</text><text x="-87.6" y="14.6" class="s">Data</text><text x="-72.0" y="8.9" class="a">/Response</text><text x="-14.4" y="14.6" class="s">MC</text></g><text x="59.2" y="15.8" class="m">anti-k</text><text x="85.6" y="18.4" class="s2">t</text><text x="91.4" y="15.8" class="m"><tspan font-style="italic">R</tspan>=0.4, LCW+JES</text><text x="59.6" y="28.6" class="m">Data 2012</text><text x="231.5" y="15.6" class="m" font-size="11.7" font-weight="bold" font-style="italic">ATLAS</text><text x="232.2" y="29.4" class="m">√<tspan dx="-0.3">s</tspan> = 8 TeV, 20 fb</text><path d="M235.6,20.6 h6.2" stroke="#000" stroke-width="0.8"/><text x="315.0" y="24.6" class="s">-1</text><text x="232.6" y="42.7" class="m">|</text><text x="237.4" y="42.7" class="m">η</text><text x="243.0" y="47.8" class="s">det</text><text x="256.8" y="42.7" class="m">|</text><text x="259.4" y="42.7" class="m">&lt;</text><text x="267.5" y="42.7" class="m">0.8</text><path d="M118,119.32 L120.7,124.12 L115.3,124.12 Z" fill="#8c0c98"/><text x="126.3" y="125.0" class="m">γ+jet</text><rect x="116.1" y="133.8" width="3.8" height="3.8" fill="none" stroke="#ff0000" stroke-width="1.1"/><text x="126.4" y="139.2" class="m">Z+jet</text><path d="M118,147.08 L120.3,151.28 L115.7,151.28 Z" fill="none" stroke="#6e4c3e" stroke-width="0.9" stroke-linejoin="miter"/><text x="126.4" y="153.2" class="m">Multijet</text><rect x="111.4" y="163.2" width="9.5" height="9.7" fill="#a2f52f"/><path d="M111.4,168.1 h9.5" stroke="#000" stroke-width="1.1"/><text x="123.2" y="172.0" class="m">Total uncertainty</text><rect x="111.4" y="177.8" width="9.5" height="9.2" fill="#0000ff"/><path d="M111.4,182.3 h9.5" stroke="#000" stroke-width="1.1"/><text x="123.2" y="186.5" class="m">Statistical component</text></g>
<text x="129.3" y="254.1" class="c"><tspan font-weight="bold">(a)</tspan> EM+JES</text>
<text x="472.3" y="254.1" class="c"><tspan font-weight="bold">(b)</tspan> LCW+JES</text>
</svg>
</body></html>
